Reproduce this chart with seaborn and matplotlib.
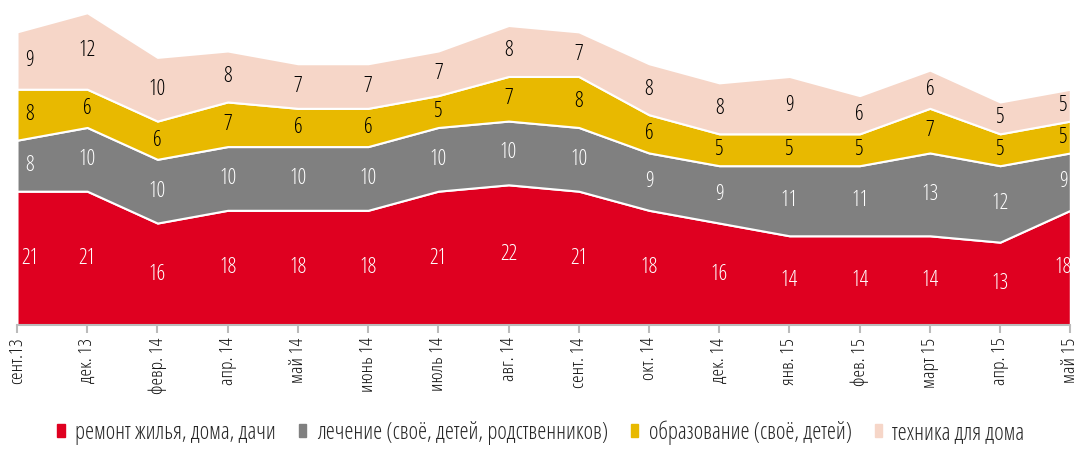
import numpy as np
import pandas as pd
import matplotlib
matplotlib.use("Agg")
import matplotlib.pyplot as plt
import seaborn as sns
from matplotlib.patches import Patch

# ==== данные ====
months = ["сент.13", "дек. 13", "февр. 14", "апр. 14", "май 14", "июнь 14",
          "июль 14", "авг. 14", "сент. 14", "окт. 14", "дек. 14", "янв. 15",
          "фев. 15", "март 15", "апр. 15", "май 15"]
remont = [21, 21, 16, 18, 18, 18, 21, 22, 21, 18, 16, 14, 14, 14, 13, 18]
lechenie = [8, 10, 10, 10, 10, 10, 10, 10, 10, 9, 9, 11, 11, 13, 12, 9]
obrazovanie = [8, 6, 6, 7, 6, 6, 5, 7, 8, 6, 5, 5, 5, 7, 5, 5]
tehnika = [9, 12, 10, 8, 7, 7, 7, 8, 7, 8, 8, 9, 6, 6, 5, 5]

series_names = ["ремонт жилья, дома, дачи",
                "лечение (своё, детей, родственников)",
                "образование (своё, детей)",
                "техника для дома"]
colors = ["#DF0020", "#808080", "#E8B900", "#F6D6C8"]
text_colors = ["white", "white", "black", "black"]

sns.set_theme(style="white")
plt.rcParams["font.family"] = ["Open Sans", "DejaVu Sans"]
plt.rcParams["font.stretch"] = "condensed"

df = pd.DataFrame({"month": months, series_names[0]: remont,
                   series_names[1]: lechenie, series_names[2]: obrazovanie,
                   series_names[3]: tehnika})
x = np.arange(len(months))
vals = df[series_names].to_numpy().T

fig = plt.figure(figsize=(10.82, 4.69), dpi=100)
ax = fig.add_axes([0.0157, 0.307, 0.9735, 0.693])

ax.stackplot(x, vals, colors=colors, edgecolor="white", linewidth=1.5)

# подписи значений в центре каждой полосы
cum = np.cumsum(vals, axis=0)
for i in range(len(series_names)):
    mids = cum[i] - vals[i] / 2
    for j in range(len(x)):
        xx = x[j]
        if j == 0:
            xx += 0.18
        elif j == len(x) - 1:
            xx -= 0.1
        ax.text(xx, mids[j], str(vals[i][j]), ha="center", va="center",
                fontsize=15.5, color=text_colors[i])

ax.set_xlim(0, len(x) - 1)
ax.set_ylim(0, 51)
ax.set_yticks([])
ax.set_xticks(x)
ax.set_xticklabels(months, rotation=90, fontsize=14, color="#111111")
ax.tick_params(axis="x", direction="out", length=6, width=1.5,
               color="#BBBBBB", pad=3, bottom=True)
sns.despine(ax=ax, left=True, top=True, right=True)
ax.spines["bottom"].set_color("#BBBBBB")
ax.spines["bottom"].set_linewidth(1.5)

handles = [Patch(facecolor=c, edgecolor=c) for c in colors]
fig.legend(handles, series_names, loc="center", bbox_to_anchor=(0.5, 0.078),
           ncol=4, frameon=False, fontsize=16.5, handletextpad=0.45,
           columnspacing=1.0, handlelength=0.33, handleheight=0.55)

fig.savefig("out.png", dpi=100)
